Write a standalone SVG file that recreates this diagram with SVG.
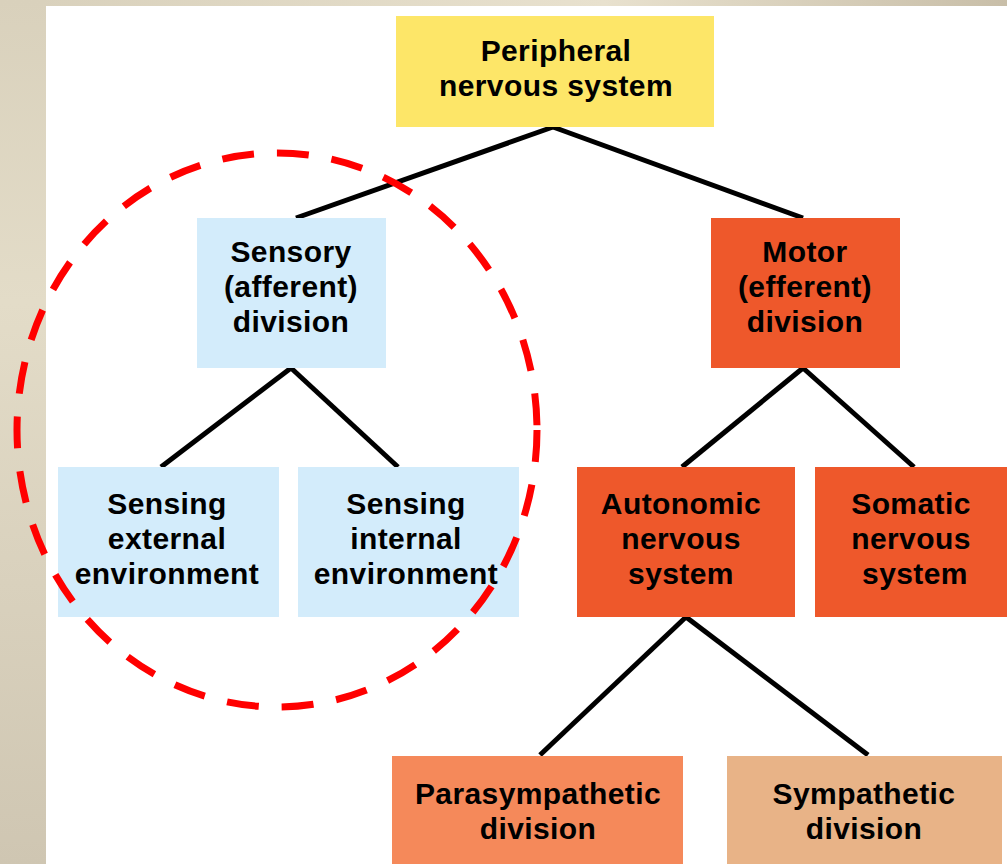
<svg xmlns="http://www.w3.org/2000/svg" width="1007" height="864" viewBox="0 0 1007 864">
  <defs>
    <linearGradient id="sideBand" x1="0" y1="0" x2="0" y2="1">
      <stop offset="0" stop-color="#d9d1bc"/>
      <stop offset="0.35" stop-color="#e3dcc8"/>
      <stop offset="1" stop-color="#cfc6b2"/>
    </linearGradient>
    <linearGradient id="topBand" x1="0" y1="0" x2="1" y2="0">
      <stop offset="0" stop-color="#d8d0bb"/>
      <stop offset="0.6" stop-color="#e8e1ce"/>
      <stop offset="1" stop-color="#c8bea8"/>
    </linearGradient>
    <style>
      .label { font-family: "Liberation Sans", Arial, sans-serif; font-weight: bold; font-size: 30px; letter-spacing: 0.4px; fill: #000; text-anchor: middle; }
      .link { stroke: #000; stroke-width: 5; fill: none; }
      .pns { fill: #fde668; }
      .sensory { fill: #d3ecfb; }
      .motor { fill: #ee582b; }
      .para { fill: #f5895a; }
      .symp { fill: #e8b387; }
    </style>
  </defs>

  <!-- page backdrop -->
  <rect x="0" y="0" width="1007" height="864" fill="#ffffff"/>
  <rect x="0" y="0" width="1007" height="6" fill="url(#topBand)"/>
  <rect x="0" y="0" width="46" height="864" fill="url(#sideBand)"/>

  <!-- tree branches -->
  <g id="connectors">
    <line class="link" x1="553" y1="127" x2="296" y2="218"/>
    <line class="link" x1="553" y1="127" x2="803" y2="218"/>
    <line class="link" x1="291" y1="368" x2="161" y2="467"/>
    <line class="link" x1="291" y1="368" x2="398" y2="467"/>
    <line class="link" x1="803" y1="368" x2="682" y2="467"/>
    <line class="link" x1="803" y1="368" x2="914" y2="467"/>
    <line class="link" x1="686" y1="617" x2="540" y2="755"/>
    <line class="link" x1="686" y1="617" x2="868" y2="755"/>
  </g>

  <g id="peripheral">
    <rect class="pns" x="396" y="16" width="318" height="111"/>
    <text class="label" x="556" y="61">Peripheral</text>
    <text class="label" x="556" y="96">nervous system</text>
  </g>

  <g id="sensory">
    <rect class="sensory" x="197" y="218" width="189" height="150"/>
    <text class="label" x="291" y="262">Sensory</text>
    <text class="label" x="291" y="297">(afferent)</text>
    <text class="label" x="291" y="332">division</text>
  </g>

  <g id="motor">
    <rect class="motor" x="711" y="218" width="189" height="150"/>
    <text class="label" x="805" y="262">Motor</text>
    <text class="label" x="805" y="297">(efferent)</text>
    <text class="label" x="805" y="332">division</text>
  </g>

  <g id="sensing-external">
    <rect class="sensory" x="58" y="467" width="221" height="150"/>
    <text class="label" x="167" y="514">Sensing</text>
    <text class="label" x="167" y="549">external</text>
    <text class="label" x="167" y="584">environment</text>
  </g>

  <g id="sensing-internal">
    <rect class="sensory" x="298" y="467" width="221" height="150"/>
    <text class="label" x="406" y="514">Sensing</text>
    <text class="label" x="406" y="549">internal</text>
    <text class="label" x="406" y="584">environment</text>
  </g>

  <g id="autonomic">
    <rect class="motor" x="577" y="467" width="218" height="150"/>
    <text class="label" x="681" y="514">Autonomic</text>
    <text class="label" x="681" y="549">nervous</text>
    <text class="label" x="681" y="584">system</text>
  </g>

  <g id="somatic">
    <rect class="motor" x="815" y="467" width="192" height="150"/>
    <text class="label" x="911" y="514">Somatic</text>
    <text class="label" x="911" y="549">nervous</text>
    <text class="label" x="915" y="584">system</text>
  </g>

  <g id="parasympathetic">
    <rect class="para" x="392" y="756" width="291" height="108"/>
    <text class="label" x="538" y="804">Parasympathetic</text>
    <text class="label" x="538" y="839">division</text>
  </g>

  <g id="sympathetic">
    <rect class="symp" x="727" y="756" width="275" height="108"/>
    <text class="label" x="864" y="804">Sympathetic</text>
    <text class="label" x="864" y="839">division</text>
  </g>

  <!-- dashed highlight around the sensory branch -->
  <g id="sensory-highlight">
    <ellipse cx="277" cy="430" rx="260" ry="277" fill="none" stroke="#ff0000" stroke-width="7" stroke-dasharray="32 23"/>
  </g>
</svg>
